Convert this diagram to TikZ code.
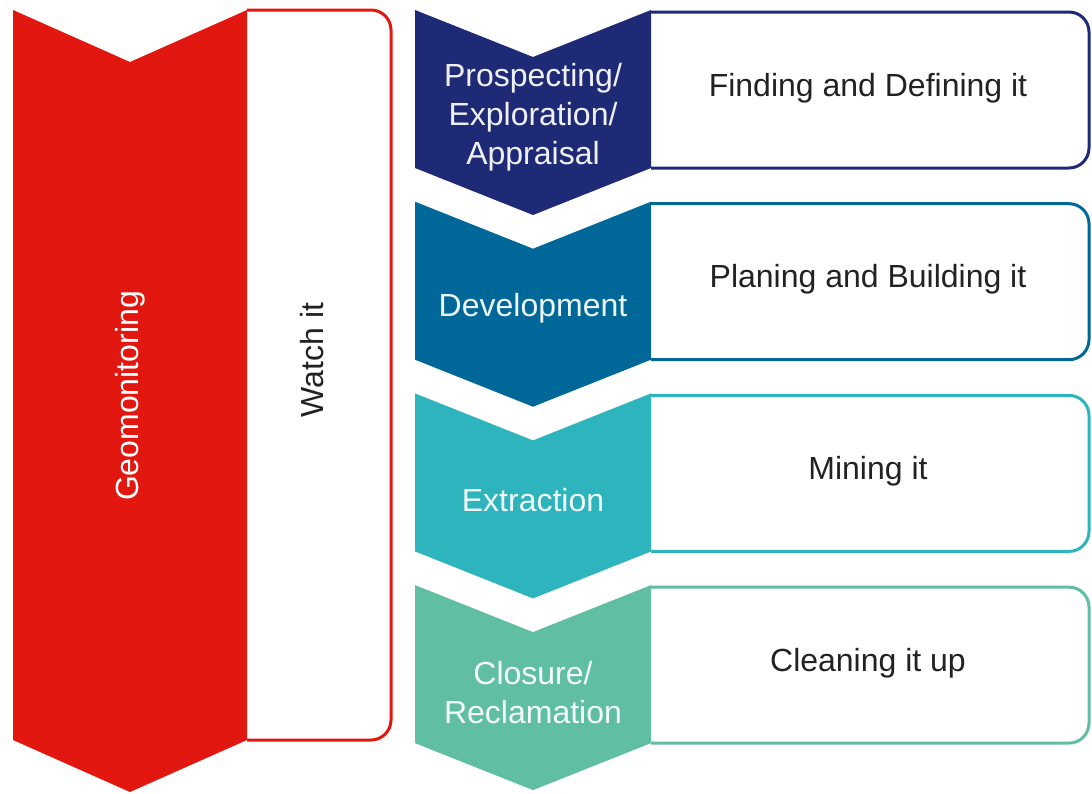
\documentclass[tikz,border=0pt]{standalone}
\usepackage{fontspec}
\setmainfont{Liberation Sans}
\usepackage{tikz}
\usetikzlibrary{positioning}
\definecolor{geored}{RGB}{226, 24, 16}
\definecolor{stageA}{RGB}{31, 42, 118}
\definecolor{stageB}{RGB}{0, 104, 152}
\definecolor{stageC}{RGB}{46, 180, 188}
\definecolor{stageD}{RGB}{96, 190, 162}
\definecolor{taskgray}{RGB}{34, 34, 34}
% slash that does not clash with the \foreach separator
\newcommand{\stslash}{/}

\begin{document}
\begin{tikzpicture}[x=0.5pt, y=-0.5pt,
		label text/.style={font=\fontsize{16}{19.5}\selectfont, align=center},
		edge box/.style={line width=1.5pt, rounded corners=10pt}]
			\useasboundingbox (0,0) rectangle (1092,793);

			% Monitoring arrow on the left
			\fill[geored] (13,10) -- (130,62) -- (247,10) -- (247,740) -- (130,792) -- (13,740) -- cycle;
			\draw[edge box, geored] (247,740) -- (391,740) -- (391,10) [sharp corners] -- (247,10);
			\node[label text, white, rotate=90] (geo) at (130,396) {Geomonitoring};
			\node[label text, taskgray, rotate=90] (watch) at (312,360) {Watch it};

			% Life-cycle stages (chevron + task box per row)
			\foreach \n/\col/\stage/\job in {0/stageA/Prospecting\stslash\\Exploration\stslash\\Appraisal/Finding and Defining it,
				1/stageB/Development/Planing and Building it,
				2/stageC/Extraction/Mining it,
				3/stageD/Closure\stslash\\Reclamation/Cleaning it up} {
				\pgfmathsetmacro{\rowtop}{10 + 191.7 * \n}

				% Chevron
				\fill[\col] (415,\rowtop) -- (533,\rowtop+47) -- (651,\rowtop) -- (651,\rowtop+158)
					-- (533,\rowtop+205) -- (415,\rowtop+158) -- cycle;

				% Task box, open on the chevron side
				\draw[edge box, \col] (651,\rowtop+158) -- (1089,\rowtop+158) -- (1089,\rowtop+2) [sharp corners] -- (651,\rowtop+2);

				\node[label text, white!93!\col] (stage\n) at (533,\rowtop+107) {\stage};
				\node[label text, taskgray] (job\n) at (868,\rowtop+78) {\job};
			}

		\end{tikzpicture}
\end{document}
